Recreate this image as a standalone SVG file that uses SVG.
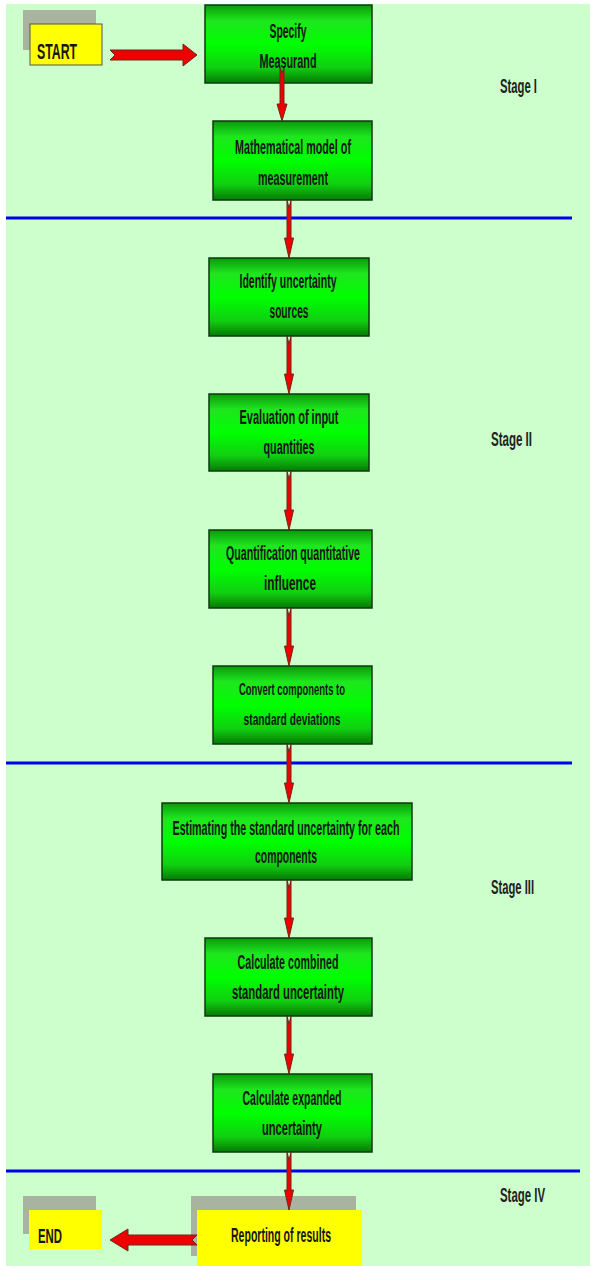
<svg xmlns="http://www.w3.org/2000/svg" width="590" height="1266" viewBox="0 0 590 1266">
<defs>
<linearGradient id="gr" x1="0" y1="0" x2="0" y2="1">
<stop offset="0" stop-color="#0a9a0a"/>
<stop offset="0.2" stop-color="#1ee61e"/>
<stop offset="0.5" stop-color="#00ff00"/>
<stop offset="0.8" stop-color="#10d010"/>
<stop offset="1" stop-color="#067a06"/>
</linearGradient>
<style>
.g{fill:url(#gr);stroke:#0b3a0b;stroke-width:1.5}
.y{fill:#ffff00}
.sh{fill:#a8b4a0}
.t{font-family:"Liberation Sans",sans-serif;font-size:20px;font-weight:bold;fill:#151515;text-anchor:middle}
.st{font-family:"Liberation Sans",sans-serif;font-size:21px;font-weight:bold;fill:#222}
.ln{stroke:#0000ee;stroke-width:3}
.ar{fill:#ee0000;stroke:#6a2a1a;stroke-width:1}
</style>
</defs>
<rect x="6" y="4" width="584" height="1262" fill="#ccffcc"/>
<line class="ln" x1="6" y1="218" x2="572" y2="218"/>
<line class="ln" x1="6" y1="763" x2="572" y2="763"/>
<line class="ln" x1="6" y1="1171" x2="580" y2="1171"/>
<g id="stage1"><text class="st" x="500" y="93" textLength="37" lengthAdjust="spacingAndGlyphs">Stage I</text></g>
<g id="stage2"><text class="st" x="491" y="446" textLength="41" lengthAdjust="spacingAndGlyphs">Stage II</text></g>
<g id="stage3"><text class="st" x="491" y="894" textLength="43" lengthAdjust="spacingAndGlyphs">Stage III</text></g>
<g id="stage4"><text class="st" x="500" y="1202" textLength="45" lengthAdjust="spacingAndGlyphs">Stage IV</text></g>
<g id="start">
<rect class="sh" x="23" y="10" width="73" height="40"/>
<rect class="y" x="30" y="24" width="72" height="41" stroke="#555" stroke-width="1"/>
<text class="t" x="57" y="59" textLength="40" lengthAdjust="spacingAndGlyphs" style="font-size:22px">START</text>
</g>
<g id="specify">
<rect class="g" x="205" y="5" width="167" height="78"/>
<text class="t" x="288" y="38" textLength="37" lengthAdjust="spacingAndGlyphs">Specify</text>
<text class="t" x="288" y="68" textLength="57" lengthAdjust="spacingAndGlyphs">Measurand</text>
</g>
<g id="model">
<rect class="g" x="213" y="121" width="159" height="79"/>
<text class="t" x="293" y="154" textLength="116" lengthAdjust="spacingAndGlyphs">Mathematical model of</text>
<text class="t" x="293" y="185" textLength="70" lengthAdjust="spacingAndGlyphs">measurement</text>
</g>
<g id="identify">
<rect class="g" x="209" y="258" width="160" height="78"/>
<text class="t" x="288" y="288" textLength="97" lengthAdjust="spacingAndGlyphs">Identify uncertainty</text>
<text class="t" x="289" y="318" textLength="39" lengthAdjust="spacingAndGlyphs">sources</text>
</g>
<g id="evaluation">
<rect class="g" x="209" y="394" width="160" height="77"/>
<text class="t" x="289" y="424" textLength="99" lengthAdjust="spacingAndGlyphs">Evaluation of input</text>
<text class="t" x="289" y="454" textLength="51" lengthAdjust="spacingAndGlyphs">quantities</text>
</g>
<g id="quantification">
<rect class="g" x="209" y="530" width="163" height="78"/>
<text class="t" x="293" y="560" textLength="134" lengthAdjust="spacingAndGlyphs">Quantification quantitative</text>
<text class="t" x="290" y="590" textLength="52" lengthAdjust="spacingAndGlyphs">influence</text>
</g>
<g id="convert">
<rect class="g" x="213" y="666" width="159" height="78"/>
<text class="t" x="292" y="695" textLength="106" lengthAdjust="spacingAndGlyphs" style="font-size:17px">Convert components to</text>
<text class="t" x="292" y="725" textLength="97" lengthAdjust="spacingAndGlyphs" style="font-size:17px">standard deviations</text>
</g>
<g id="estimating">
<rect class="g" x="162" y="803" width="250" height="77"/>
<text class="t" x="286" y="835" textLength="227" lengthAdjust="spacingAndGlyphs">Estimating the standard uncertainty for each</text>
<text class="t" x="286" y="863" textLength="62" lengthAdjust="spacingAndGlyphs">components</text>
</g>
<g id="combined">
<rect class="g" x="205" y="938" width="167" height="78"/>
<text class="t" x="288" y="969" textLength="101" lengthAdjust="spacingAndGlyphs">Calculate combined</text>
<text class="t" x="288" y="999" textLength="112" lengthAdjust="spacingAndGlyphs">standard uncertainty</text>
</g>
<g id="expanded">
<rect class="g" x="213" y="1074" width="159" height="78"/>
<text class="t" x="292" y="1105" textLength="99" lengthAdjust="spacingAndGlyphs">Calculate expanded</text>
<text class="t" x="292" y="1135" textLength="60" lengthAdjust="spacingAndGlyphs">uncertainty</text>
</g>
<g id="reporting">
<rect class="sh" x="191" y="1196" width="165" height="60"/>
<rect class="y" x="197" y="1210" width="165" height="56"/>
<text class="t" x="281" y="1242" textLength="100" lengthAdjust="spacingAndGlyphs">Reporting of results</text>
</g>
<g id="end">
<rect class="sh" x="23" y="1196" width="73" height="38"/>
<rect class="y" x="29" y="1210" width="73" height="39"/>
<text class="t" x="50" y="1243" textLength="24" lengthAdjust="spacingAndGlyphs">END</text>
</g>
<g id="connectors">
<path class="ar" d="M110,50 L183,50 L183,44 L197,55 L183,66 L183,60 L110,60 L115,55 Z"/>
<path class="ar" d="M197,1235 L128,1235 L128,1229 L110,1240 L128,1251 L128,1245 L197,1245 L192,1240 Z"/>
<path class="ar" d="M280,68 L280,104 L277,104 L282,121 L287,104 L284,104 L284,68 L282,73 Z"/>
<path class="ar" d="M287,200 L287,238 L284.5,238 L289,258 L293.5,238 L291,238 L291,200 L289,208 Z"/>
<path class="ar" d="M287,336 L287,374 L284.5,374 L289,394 L293.5,374 L291,374 L291,336 L289,344 Z"/>
<path class="ar" d="M287,471 L287,510 L284.5,510 L289,530 L293.5,510 L291,510 L291,471 L289,479 Z"/>
<path class="ar" d="M287,608 L287,646 L284.5,646 L289,666 L293.5,646 L291,646 L291,608 L289,616 Z"/>
<path class="ar" d="M287,744 L287,783 L284.5,783 L289,803 L293.5,783 L291,783 L291,744 L289,752 Z"/>
<path class="ar" d="M287,880 L287,918 L284.5,918 L289,938 L293.5,918 L291,918 L291,880 L289,888 Z"/>
<path class="ar" d="M287,1016 L287,1054 L284.5,1054 L289,1074 L293.5,1054 L291,1054 L291,1016 L289,1024 Z"/>
<path class="ar" d="M287,1152 L287,1190 L284.5,1190 L289,1210 L293.5,1190 L291,1190 L291,1152 L289,1160 Z"/>
</g>
</svg>
